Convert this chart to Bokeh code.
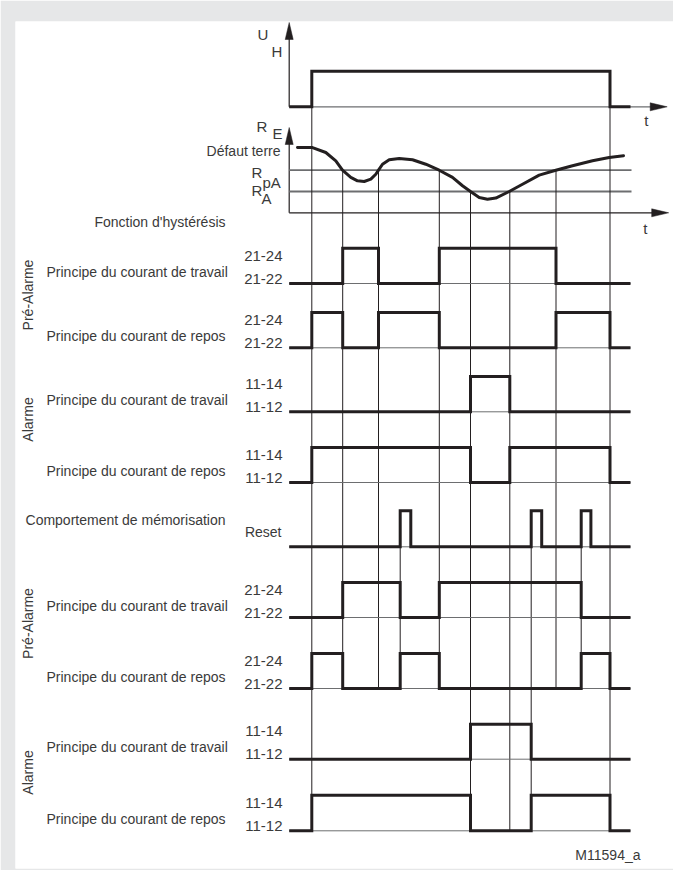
import math
from bokeh.plotting import figure
from bokeh.models import Range1d
from bokeh.core.properties import value
from bokeh.embed import file_html
from bokeh.resources import INLINE

# ---------------- data (time units: 0 = axis origin) ----------------
T_END = 341.3            # end of drawn signals
T_AXIS_END = 381.0       # tip of time arrows
T_ON, T_OFF = 22.6, 320.8                    # supply voltage U_H
T_PA_DOWN1, T_PA_UP1 = 53.5, 89.3            # R_E crosses R_pA
T_PA_DOWN2, T_PA_UP2 = 150.1, 266.8
T_A_DOWN, T_A_UP = 181.3, 220.6              # R_E crosses R_A
RESET_ON = [111.0, 242.0, 292.0]
RESET_OFF = [121.6, 252.5, 301.7]

R_PA, R_A = 2.0, 1.0
curve_t = [8.3, 23.3, 36.6, 46.6, 53.3, 61.6, 68.3, 75.0, 81.6, 86.6, 89.3, 93.3,
           100.0, 110.0, 123.3, 136.6, 150.0, 163.3, 173.3, 181.3, 190.0, 198.3,
           206.6, 220.0, 233.3, 250.0, 266.6, 283.3, 303.3, 320.0, 334.3]
curve_r = [3.07, 3.06, 2.83, 2.44, 2.0, 1.66, 1.50, 1.47, 1.58, 1.81, 2.0, 2.28,
           2.49, 2.55, 2.49, 2.28, 2.0, 1.66, 1.27, 1.0, 0.72, 0.64,
           0.69, 1.0, 1.34, 1.77, 2.0, 2.21, 2.44, 2.60, 2.68]

uh_t = [0, T_ON, T_OFF, T_END]; uh_v = [0, 1, 0, 0]
pa_w1_t = [0, T_PA_DOWN1, T_PA_UP1, T_PA_DOWN2, T_PA_UP2, T_END]; pa_w1_v = [0, 1, 0, 1, 0, 0]
pa_r1_t = [0, T_ON, T_PA_DOWN1, T_PA_UP1, T_PA_DOWN2, T_PA_UP2, T_OFF, T_END]; pa_r1_v = [0, 1, 0, 1, 0, 1, 0, 0]
al_w1_t = [0, T_A_DOWN, T_A_UP, T_END]; al_w1_v = [0, 1, 0, 0]
al_r1_t = [0, T_ON, T_A_DOWN, T_A_UP, T_OFF, T_END]; al_r1_v = [0, 1, 0, 1, 0, 0]
reset_t = [0, RESET_ON[0], RESET_OFF[0], RESET_ON[1], RESET_OFF[1], RESET_ON[2], RESET_OFF[2], T_END]
reset_v = [0, 1, 0, 1, 0, 1, 0, 0]
pa_w2_t = [0, T_PA_DOWN1, RESET_ON[0], T_PA_DOWN2, RESET_ON[2], T_END]; pa_w2_v = [0, 1, 0, 1, 0, 0]
pa_r2_t = [0, T_ON, T_PA_DOWN1, RESET_ON[0], T_PA_DOWN2, RESET_ON[2], T_OFF, T_END]; pa_r2_v = [0, 1, 0, 1, 0, 1, 0, 0]
al_w2_t = [0, T_A_DOWN, RESET_ON[1], T_END]; al_w2_v = [0, 1, 0, 0]
al_r2_t = [0, T_ON, T_A_DOWN, RESET_ON[1], T_OFF, T_END]; al_r2_v = [0, 1, 0, 1, 0, 0]

# ---------------- layout (page pixels) ----------------
X0 = 296.7          # time origin
FONT = value("Liberation Sans")
INK = "#231f20"
TXT = "#3a3a3a"
GRID = "#6d6e70"

p = figure(width=673, height=870, output_backend="svg", toolbar_location=None,
           x_range=Range1d(23, 681), y_range=Range1d(876, 29),
           min_border_left=15, min_border_right=0, min_border_top=21, min_border_bottom=2)
p.axis.visible = False
p.grid.visible = False
p.outline_line_color = None
p.border_fill_color = "#e6e7e8"
p.background_fill_color = "white"

def X(t):
    return [X0 + v for v in t] if isinstance(t, list) else X0 + t

def step(ts, vs, base, amp):
    xs, ys = [], []
    for i in range(len(ts) - 1):
        y = base - amp * vs[i]
        xs += [X(ts[i]), X(ts[i + 1])]
        ys += [y, y]
    return xs, ys

def text(x, y, s, align="left", angle=0, size="14px", baseline="middle"):
    p.text(x=[x], y=[y], text=[s], text_font=FONT, text_font_size=size,
           text_color=TXT, text_align=align, text_baseline=baseline, angle=angle)

# --- supply voltage panel
UH_BASE, UH_AMP = 114.3, 35.6
p.line([X0, X(T_AXIS_END) - 16], [UH_BASE, UH_BASE], line_color=GRID, line_width=1.3)
p.line([X0, X0], [UH_BASE, 46], line_color=INK, line_width=1.2)
xs, ys = step(uh_t, uh_v, UH_BASE, UH_AMP)
p.line(xs, ys, line_color=INK, line_width=3, line_join="miter")

# --- R_E panel
RE_BASE, RE_SCALE = 220.3, 21.3
p.line([X0, X(T_AXIS_END) - 16], [RE_BASE, RE_BASE], line_color=INK, line_width=1.3)
p.line([X0, X0], [RE_BASE, 151], line_color=INK, line_width=1.2)
for r in (R_PA, R_A):
    p.line([X0, X(T_END) + 1], [RE_BASE - r * RE_SCALE] * 2, line_color=GRID, line_width=1.8)
p.line(X(curve_t), [RE_BASE - r * RE_SCALE for r in curve_r], line_color=INK, line_width=3,
       line_join="round", line_cap="round")

# arrows (triangles at the axis ends)
for (tx, ty) in [(X0, 30), (X0, 135)]:
    p.patch([tx, tx - 4, tx + 4], [ty, ty + 17, ty + 17], fill_color=INK, line_color=INK, line_width=0.5)
for (tx, ty) in [(X(T_AXIS_END) - 3, UH_BASE), (X(T_AXIS_END) - 1.5, RE_BASE)]:
    p.patch([tx, tx - 17, tx - 17], [ty, ty - 4, ty + 4], fill_color=INK, line_color=INK, line_width=0.5)

# --- signal rows
rows = [
    (pa_w1_t, pa_w1_v, 291.0, 35.3, "21-24", "21-22", "Principe du courant de travail"),
    (pa_r1_t, pa_r1_v, 355.3, 35.3, "21-24", "21-22", "Principe du courant de repos"),
    (al_w1_t, al_w1_v, 419.3, 35.3, "11-14", "11-12", "Principe du courant de travail"),
    (al_r1_t, al_r1_v, 490.0, 35.0, "11-14", "11-12", "Principe du courant de repos"),
    (reset_t, reset_v, 554.3, 36.0, None, None, None),
    (pa_w2_t, pa_w2_v, 625.0, 35.0, "21-24", "21-22", "Principe du courant de travail"),
    (pa_r2_t, pa_r2_v, 696.0, 35.0, "21-24", "21-22", "Principe du courant de repos"),
    (al_w2_t, al_w2_v, 766.7, 35.0, "11-14", "11-12", "Principe du courant de travail"),
    (al_r2_t, al_r2_v, 838.3, 35.6, "11-14", "11-12", "Principe du courant de repos"),
]

# vertical event lines: (time, y top, y bottom)
vlines = [
    (T_ON, UH_BASE, 838.3), (T_OFF, UH_BASE, 838.3),
    (T_PA_DOWN1, RE_BASE - R_PA * RE_SCALE, 696.0), (T_PA_UP1, RE_BASE - R_PA * RE_SCALE, 696.0),
    (T_PA_DOWN2, RE_BASE - R_PA * RE_SCALE, 696.0), (T_PA_UP2, RE_BASE - R_PA * RE_SCALE, 696.0),
    (T_A_DOWN, RE_BASE - R_A * RE_SCALE, 838.3), (T_A_UP, RE_BASE - R_A * RE_SCALE, 838.3),
    (RESET_ON[0], 518.3, 696.0), (RESET_ON[1], 518.3, 838.3), (RESET_ON[2], 518.3, 696.0),
]
p.segment(x0=[X(v[0]) for v in vlines], y0=[v[1] for v in vlines],
          x1=[X(v[0]) for v in vlines], y1=[v[2] for v in vlines], line_color=INK, line_width=1)

for ts, vs, base, amp, hi, lo, lab in rows:
    p.line([X0, X(T_END)], [base, base], line_color=GRID, line_width=1)
    xs, ys = step(ts, vs, base, amp)
    p.line(xs, ys, line_color=INK, line_width=3, line_join="miter")
    if hi:
        text(290, base - 28, hi, align="right", size="15px")
        text(290, base - 5, lo, align="right", size="15px")
        text(54, base - 12, lab)

# --- labels
text(265, 42, "U", size="15px")
text(279, 59, "H", size="15px")
text(264, 134, "R", size="15px")
text(280, 141, "E", size="15px")
text(288, 158, "Défaut terre", align="right")
text(259, 180, "R", size="15px")
text(270, 190, "pA", size="15px")
text(259, 198, "R", size="15px")
text(269, 206, "A", size="15px")
text(X(T_AXIS_END) - 26, 128, "t", size="15px")
text(X(T_AXIS_END) - 27, 236, "t", size="15px")
text(233, 229, "Fonction d'hystérésis", align="right")
text(233, 527, "Comportement de mémorisation", align="right")
text(289, 539, "Reset", align="right")
text(648, 862, "M11594_a", align="right")
for cy, s in [(302.5, "Pré-Alarme"), (427, "Alarme"), (631, "Pré-Alarme"), (780, "Alarme")]:
    text(35, cy, s, align="center", angle=math.pi / 2)

open("out.html", "w").write(file_html(p, INLINE))
